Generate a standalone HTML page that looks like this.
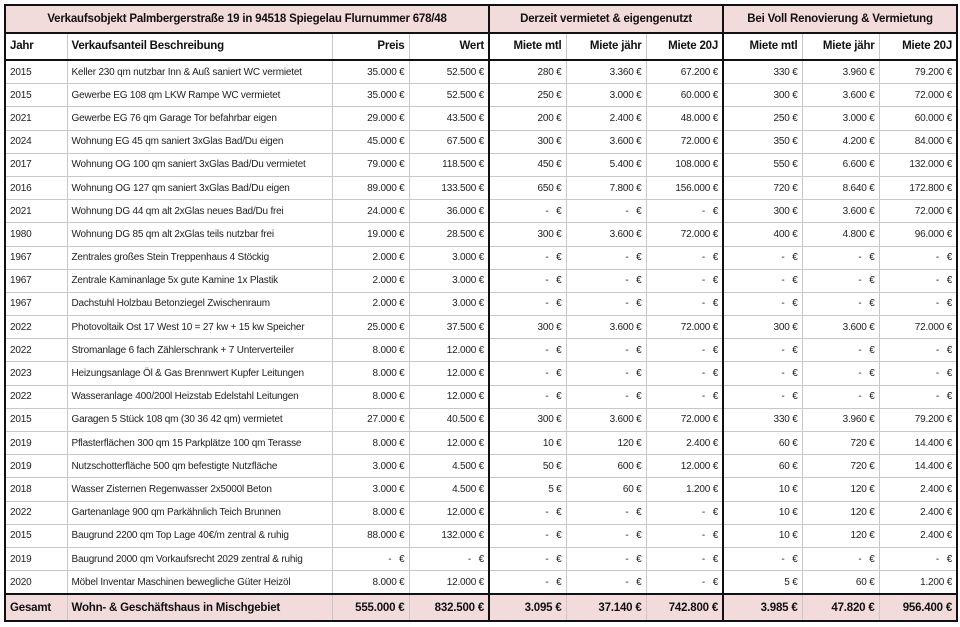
<!DOCTYPE html>
<html><head><meta charset="utf-8"><style>
body{margin:0;background:#fff;font-family:"Liberation Sans",Arial,sans-serif;}
table{position:absolute;left:4px;top:4px;border-collapse:collapse;table-layout:fixed;width:952px;}
td{border:1px solid #c8c8c8;font-size:10px;color:#222;padding:0 4px;white-space:nowrap;overflow:hidden;height:22.2px;text-align:right;letter-spacing:-0.2px}
td.l{text-align:left}
tr.t td{background:#f2dcdb;font-weight:bold;font-size:11.5px;text-align:center;height:25.5px;border:2px solid #111;color:#111}
tr.h td{font-weight:bold;font-size:11.5px;height:25.5px;border-bottom:2px solid #111;color:#111}
tr.g td{background:#f2dcdb;font-weight:bold;font-size:11.5px;height:24.5px;border-top:2px solid #111;border-bottom:2px solid #111;color:#111}
td.b{border-left:2px solid #111}
td:first-child{border-left:2px solid #111}
td:last-child{border-right:2px solid #111}
</style></head><body>
<table>
<colgroup><col style="width:62px"><col style="width:265px"><col style="width:77px"><col style="width:80px"><col style="width:77px"><col style="width:80px"><col style="width:77px"><col style="width:79px"><col style="width:77px"><col style="width:78px"></colgroup>
<tr class="t"><td colspan="4">Verkaufsobjekt Palmbergerstraße 19 in 94518 Spiegelau Flurnummer 678/48</td><td colspan="3" class="b">Derzeit vermietet &amp; eigengenutzt</td><td colspan="3" class="b">Bei Voll Renovierung &amp; Vermietung</td></tr>
<tr class="h"><td class="l">Jahr</td><td class="l">Verkaufsanteil Beschreibung</td><td>Preis</td><td>Wert</td><td class="b">Miete mtl</td><td>Miete jähr</td><td>Miete 20J</td><td class="b">Miete mtl</td><td>Miete jähr</td><td>Miete 20J</td></tr>
<tr><td class="l">2015</td><td class="l">Keller 230 qm nutzbar Inn &amp; Auß saniert WC vermietet</td><td>35.000 €</td><td>52.500 €</td><td class="b">280 €</td><td>3.360 €</td><td>67.200 €</td><td class="b">330 €</td><td>3.960 €</td><td>79.200 €</td></tr>
<tr><td class="l">2015</td><td class="l">Gewerbe EG 108 qm LKW Rampe WC vermietet</td><td>35.000 €</td><td>52.500 €</td><td class="b">250 €</td><td>3.000 €</td><td>60.000 €</td><td class="b">300 €</td><td>3.600 €</td><td>72.000 €</td></tr>
<tr><td class="l">2021</td><td class="l">Gewerbe EG 76 qm Garage Tor befahrbar eigen</td><td>29.000 €</td><td>43.500 €</td><td class="b">200 €</td><td>2.400 €</td><td>48.000 €</td><td class="b">250 €</td><td>3.000 €</td><td>60.000 €</td></tr>
<tr><td class="l">2024</td><td class="l">Wohnung EG 45 qm saniert 3xGlas Bad/Du eigen</td><td>45.000 €</td><td>67.500 €</td><td class="b">300 €</td><td>3.600 €</td><td>72.000 €</td><td class="b">350 €</td><td>4.200 €</td><td>84.000 €</td></tr>
<tr><td class="l">2017</td><td class="l">Wohnung OG 100 qm saniert 3xGlas Bad/Du vermietet</td><td>79.000 €</td><td>118.500 €</td><td class="b">450 €</td><td>5.400 €</td><td>108.000 €</td><td class="b">550 €</td><td>6.600 €</td><td>132.000 €</td></tr>
<tr><td class="l">2016</td><td class="l">Wohnung OG 127 qm saniert 3xGlas Bad/Du eigen</td><td>89.000 €</td><td>133.500 €</td><td class="b">650 €</td><td>7.800 €</td><td>156.000 €</td><td class="b">720 €</td><td>8.640 €</td><td>172.800 €</td></tr>
<tr><td class="l">2021</td><td class="l">Wohnung DG 44 qm alt 2xGlas neues Bad/Du frei</td><td>24.000 €</td><td>36.000 €</td><td class="b">- &nbsp; €</td><td>- &nbsp; €</td><td>- &nbsp; €</td><td class="b">300 €</td><td>3.600 €</td><td>72.000 €</td></tr>
<tr><td class="l">1980</td><td class="l">Wohnung DG 85 qm alt 2xGlas teils nutzbar frei</td><td>19.000 €</td><td>28.500 €</td><td class="b">300 €</td><td>3.600 €</td><td>72.000 €</td><td class="b">400 €</td><td>4.800 €</td><td>96.000 €</td></tr>
<tr><td class="l">1967</td><td class="l">Zentrales großes Stein Treppenhaus 4 Stöckig</td><td>2.000 €</td><td>3.000 €</td><td class="b">- &nbsp; €</td><td>- &nbsp; €</td><td>- &nbsp; €</td><td class="b">- &nbsp; €</td><td>- &nbsp; €</td><td>- &nbsp; €</td></tr>
<tr><td class="l">1967</td><td class="l">Zentrale Kaminanlage 5x gute Kamine 1x Plastik</td><td>2.000 €</td><td>3.000 €</td><td class="b">- &nbsp; €</td><td>- &nbsp; €</td><td>- &nbsp; €</td><td class="b">- &nbsp; €</td><td>- &nbsp; €</td><td>- &nbsp; €</td></tr>
<tr><td class="l">1967</td><td class="l">Dachstuhl Holzbau Betonziegel Zwischenraum</td><td>2.000 €</td><td>3.000 €</td><td class="b">- &nbsp; €</td><td>- &nbsp; €</td><td>- &nbsp; €</td><td class="b">- &nbsp; €</td><td>- &nbsp; €</td><td>- &nbsp; €</td></tr>
<tr><td class="l">2022</td><td class="l">Photovoltaik Ost 17 West 10 = 27 kw + 15 kw Speicher</td><td>25.000 €</td><td>37.500 €</td><td class="b">300 €</td><td>3.600 €</td><td>72.000 €</td><td class="b">300 €</td><td>3.600 €</td><td>72.000 €</td></tr>
<tr><td class="l">2022</td><td class="l">Stromanlage 6 fach Zählerschrank + 7 Unterverteiler</td><td>8.000 €</td><td>12.000 €</td><td class="b">- &nbsp; €</td><td>- &nbsp; €</td><td>- &nbsp; €</td><td class="b">- &nbsp; €</td><td>- &nbsp; €</td><td>- &nbsp; €</td></tr>
<tr><td class="l">2023</td><td class="l">Heizungsanlage Öl &amp; Gas Brennwert Kupfer Leitungen</td><td>8.000 €</td><td>12.000 €</td><td class="b">- &nbsp; €</td><td>- &nbsp; €</td><td>- &nbsp; €</td><td class="b">- &nbsp; €</td><td>- &nbsp; €</td><td>- &nbsp; €</td></tr>
<tr><td class="l">2022</td><td class="l">Wasseranlage 400/200l Heizstab Edelstahl Leitungen</td><td>8.000 €</td><td>12.000 €</td><td class="b">- &nbsp; €</td><td>- &nbsp; €</td><td>- &nbsp; €</td><td class="b">- &nbsp; €</td><td>- &nbsp; €</td><td>- &nbsp; €</td></tr>
<tr><td class="l">2015</td><td class="l">Garagen 5 Stück 108 qm (30 36 42 qm) vermietet</td><td>27.000 €</td><td>40.500 €</td><td class="b">300 €</td><td>3.600 €</td><td>72.000 €</td><td class="b">330 €</td><td>3.960 €</td><td>79.200 €</td></tr>
<tr><td class="l">2019</td><td class="l">Pflasterflächen 300 qm 15 Parkplätze 100 qm Terasse</td><td>8.000 €</td><td>12.000 €</td><td class="b">10 €</td><td>120 €</td><td>2.400 €</td><td class="b">60 €</td><td>720 €</td><td>14.400 €</td></tr>
<tr><td class="l">2019</td><td class="l">Nutzschotterfläche 500 qm befestigte Nutzfläche</td><td>3.000 €</td><td>4.500 €</td><td class="b">50 €</td><td>600 €</td><td>12.000 €</td><td class="b">60 €</td><td>720 €</td><td>14.400 €</td></tr>
<tr><td class="l">2018</td><td class="l">Wasser Zisternen Regenwasser 2x5000l Beton</td><td>3.000 €</td><td>4.500 €</td><td class="b">5 €</td><td>60 €</td><td>1.200 €</td><td class="b">10 €</td><td>120 €</td><td>2.400 €</td></tr>
<tr><td class="l">2022</td><td class="l">Gartenanlage 900 qm Parkähnlich Teich Brunnen</td><td>8.000 €</td><td>12.000 €</td><td class="b">- &nbsp; €</td><td>- &nbsp; €</td><td>- &nbsp; €</td><td class="b">10 €</td><td>120 €</td><td>2.400 €</td></tr>
<tr><td class="l">2015</td><td class="l">Baugrund 2200 qm Top Lage 40€/m zentral &amp; ruhig</td><td>88.000 €</td><td>132.000 €</td><td class="b">- &nbsp; €</td><td>- &nbsp; €</td><td>- &nbsp; €</td><td class="b">10 €</td><td>120 €</td><td>2.400 €</td></tr>
<tr><td class="l">2019</td><td class="l">Baugrund 2000 qm Vorkaufsrecht 2029 zentral &amp; ruhig</td><td>- &nbsp; €</td><td>- &nbsp; €</td><td class="b">- &nbsp; €</td><td>- &nbsp; €</td><td>- &nbsp; €</td><td class="b">- &nbsp; €</td><td>- &nbsp; €</td><td>- &nbsp; €</td></tr>
<tr><td class="l">2020</td><td class="l">Möbel Inventar Maschinen bewegliche Güter Heizöl</td><td>8.000 €</td><td>12.000 €</td><td class="b">- &nbsp; €</td><td>- &nbsp; €</td><td>- &nbsp; €</td><td class="b">5 €</td><td>60 €</td><td>1.200 €</td></tr>
<tr class="g"><td class="l">Gesamt</td><td class="l">Wohn- &amp; Geschäftshaus in Mischgebiet</td><td>555.000 €</td><td>832.500 €</td><td class="b">3.095 €</td><td>37.140 €</td><td>742.800 €</td><td class="b">3.985 €</td><td>47.820 €</td><td>956.400 €</td></tr>
</table>
</body></html>
